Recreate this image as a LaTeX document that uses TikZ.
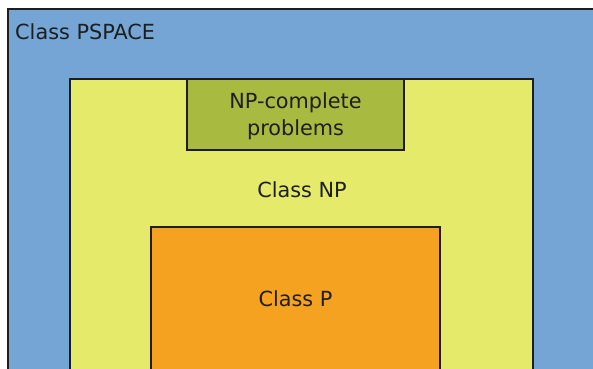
\documentclass[tikz,border=0pt]{standalone}
\usepackage{fontspec}
\setmainfont{DejaVu Sans}
\definecolor{pspaceblue}{HTML}{74A5D4}
\definecolor{npyellow}{HTML}{E5EA6B}
\definecolor{npcolive}{HTML}{A9BA41}
\definecolor{porange}{HTML}{F5A220}
\definecolor{edge}{HTML}{1E1E1E}
\begin{document}
\begin{tikzpicture}[x=1pt,y=-1pt,
  region/.style={draw=edge, line width=1.2pt},
  lbl/.style={font=\fontsize{20.8}{27}\selectfont, text=edge, inner sep=0pt, align=center}]
\useasboundingbox (0,0) rectangle (593,368);
\clip (0,0) rectangle (593,368);
% nested complexity classes
\coordinate (pspaceNW) at (8,9);
\coordinate (pspaceSE) at (640,420);
\coordinate (npNW) at (70,79);
\coordinate (npSE) at (533,420);
\coordinate (pNW) at (151,227);
\coordinate (pSE) at (440,420);
\coordinate (npcNW) at (187,79);
\coordinate (npcSE) at (404,150);
\draw[region, fill=pspaceblue] (pspaceNW) rectangle (pspaceSE);
\draw[region, fill=npyellow] (npNW) rectangle (npSE);
\draw[region, fill=porange] (pNW) rectangle (pSE);
\draw[region, fill=npcolive] (npcNW) rectangle (npcSE);
% labels
\node[lbl, anchor=base west] (pspace) at (15,39.5) {Class PSPACE};
\node[lbl, anchor=base] (np) at (302,197) {Class NP};
\node[lbl, anchor=base] (p) at (295.5,306) {Class P};
\node[lbl, anchor=base] (npc) at (295.5,135) {NP-complete\\problems};
\end{tikzpicture}
\end{document}
